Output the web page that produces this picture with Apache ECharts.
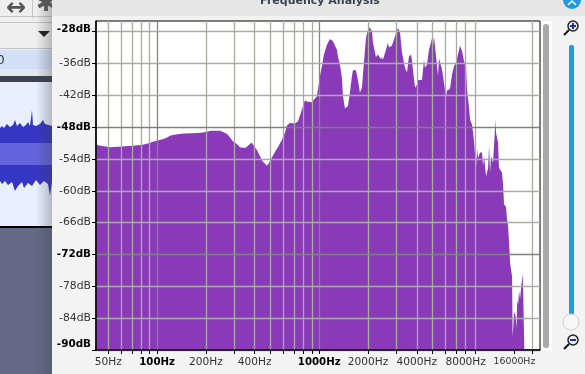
<!DOCTYPE html>
<html>
<head>
<meta charset="utf-8">
<title>Frequency Analysis</title>
<script src="https://cdn.jsdelivr.net/npm/echarts@6/dist/echarts.min.js"></script>
<style>
  html, body { margin: 0; padding: 0; background: #f2f2f2; }
  #chart { width: 585px; height: 374px; }
</style>
</head>
<body>
<div id="chart"></div>
<script>
// spectrum envelope
const freqHz = [
  42, 44.9, 51.8, 70.8, 81.6, 87.6, 95.4, 105, 113, 121, 130, 146, 181, 200, 215, 231,
  244, 255, 270, 281, 294, 311, 324, 338, 353, 363, 384, 395, 413, 431, 449, 476,
  490, 511, 533, 556, 589, 614, 632, 660, 708, 740, 771, 794, 816, 852, 902, 927,
  968, 982, 1010, 1039, 1069, 1115, 1164, 1215, 1286, 1304, 1342, 1381, 1401, 1441, 1503, 1546,
  1591, 1614, 1685, 1733, 1783, 1835, 1861, 1942, 2000, 2027, 2115, 2145, 2238, 2303, 2404, 2438,
  2472, 2580, 2654, 2692, 2810, 2932, 3060, 3148, 3240, 3380, 3478, 3578, 3682, 3736, 3898, 4009,
  4066, 4306, 4428, 4491, 4622, 4755, 4961, 5032, 5104, 5253, 5405, 5482, 5722, 5885, 6053, 6138,
  6403, 6592, 6785, 6982, 7082, 7389, 7602, 7822, 8046, 8160, 8394, 8516, 8758, 9017, 9274, 9405,
  9540, 9815, 10100, 10250, 10400, 10690, 11000, 11160, 11320, 11480, 11810, 11980, 12230, 12320, 12670, 12850,
  13420, 13610, 13810, 14200, 14410, 14620, 14830, 15040, 15470, 15590, 15700, 15900, 16300, 16530, 16600, 16840,
  17080, 17320, 17740, 17960, 18080, 18340, 18450
]
const levelDb = [
  -51.3, -51.5, -51.8, -51.5, -51.3, -51.1, -50.7, -50.4, -50.1, -49.6, -49.4, -49.2, -49.1, -48.9, -48.7, -48.7,
  -48.7, -48.9, -49.3, -49.9, -50.7, -51.2, -51.8, -51.9, -51.9, -51.5, -50.9, -51.5, -52.3, -53.5, -54.5, -55.3,
  -54.7, -53.7, -52.7, -51.8, -50.4, -49.1, -47.7, -47.2, -47.3, -46.9, -45.3, -44, -43, -43.2, -43.3, -42.8,
  -42.2, -40.9, -38.4, -36.5, -34.3, -32.5, -31.4, -31.8, -33.4, -34.7, -36.2, -38.7, -42.1, -44.5, -44, -41.5,
  -38.4, -37.3, -37.3, -39.1, -41.5, -40.6, -38.1, -31.2, -29.6, -29.1, -29.9, -32.1, -34.8, -34.3, -35.2, -34.8,
  -35.3, -33.4, -32.1, -33, -32.6, -30.9, -29.3, -30.1, -34, -36.8, -37.7, -34.7, -34.3, -35.6, -40.6, -40,
  -39.1, -39.1, -35.3, -36.8, -36.2, -33.4, -31.3, -32.5, -30.9, -34.7, -38.3, -35, -37.2, -39.7, -42.2, -41.1,
  -40.8, -38.1, -36.5, -35.9, -36.2, -32.6, -33.7, -35.6, -36.5, -40.9, -44.3, -46.6, -47.5, -50.7, -55.7, -52.1,
  -53.8, -52.8, -52.8, -55.3, -53.5, -57.3, -55.7, -51.5, -56.6, -53.5, -54.7, -51.3, -46.6, -49.1, -50.9, -55.7,
  -56.6, -58.9, -62.6, -63, -65.5, -66.7, -70, -73.6, -76.2, -87.4, -86.2, -82.8, -83.7, -86, -80.6, -81.5,
  -78.9, -80.4, -80.2, -75.7, -78, -78, -91
]

const yTickValues = [-90, -84, -78, -72, -66, -60, -54, -48, -42, -36, -30]
const yTickLabels = ['-90dB', '-84dB', '-78dB', '-72dB', '-66dB', '-60dB', '-54dB', '-48dB', '-42dB', '-36dB', '-28dB']
const yBoldLabels = ['-90dB', '-72dB', '-48dB', '-28dB']
const yDarkLines = [-72, -48]

const xTickValues = [
  50, 60, 70, 80, 90, 100, 200, 300, 400, 500, 600, 700, 800, 900, 1000,
  2000, 3000, 4000, 5000, 6000, 7000, 8000, 9150, 16000, 20500
]
const xGridValues = xTickValues.filter(v => v !== 16000)
const xDarkLines = [100, 1000]
const xLabelValues = [50, 100, 200, 400, 1000, 2000, 4000, 8000, 16000]
const xBoldLabels = [100, 1000]

const chart = echarts.init(document.getElementById('chart'))

const gridLines = [
  ...xGridValues.map(v => ({
    xAxis: v,
    lineStyle: { color: xDarkLines.includes(v) ? '#828580' : '#a8aaa4' }
  })),
  ...yTickValues.map(v => ({
    yAxis: v,
    lineStyle: { color: yDarkLines.includes(v) ? '#7f827c' : '#aaaca6' }
  }))
]

const font = 'DejaVu Sans'

// pieces of the Audacity window around the plot, not data
const shell = [
  // window behind the dialog
  { type: 'rect', shape: { x: 0, y: 0, width: 52, height: 374 }, style: { fill: '#626a85' } },
  { type: 'rect', shape: { x: 0, y: 0, width: 52, height: 50 }, style: { fill: '#efefef' } },
  { type: 'rect', shape: { x: 0, y: 16, width: 52, height: 1 }, style: { fill: '#c4c4c4' } },
  { type: 'rect', shape: { x: 0, y: 22, width: 52, height: 1 }, style: { fill: '#c4c4c4' } },
  { type: 'rect', shape: { x: 0, y: 48, width: 52, height: 1 }, style: { fill: '#c4c4c4' } },
  { type: 'rect', shape: { x: 32, y: 0, width: 1, height: 18 }, style: { fill: '#c4c4c4' } },
  { type: 'rect', shape: { x: 0, y: 50, width: 52, height: 19 }, style: { fill: '#d3e0f7' } },
  { type: 'rect', shape: { x: 0, y: 69, width: 52, height: 7 }, style: { fill: '#e4e8ef' } },
  { type: 'rect', shape: { x: 0, y: 76, width: 52, height: 6 }, style: { fill: '#3e4152' } },
  { type: 'rect', shape: { x: 0, y: 82, width: 52, height: 144 }, style: { fill: '#e8f0fe' } },
  {
    type: 'polygon',
    shape: { points: [
      [0, 128], [2, 126], [4, 128], [7, 124], [10, 127], [13, 125], [15, 120], [17, 126], [20, 123], [23, 127],
      [26, 125], [28, 122], [30, 126], [32, 110], [33, 125], [36, 126], [40, 124], [43, 120], [45, 124], [52, 126],
      [52, 182], [50, 196], [48, 184], [44, 181], [40, 185], [36, 180], [32, 186], [28, 183], [24, 188], [22, 182],
      [18, 186], [15, 191], [12, 182], [8, 185], [5, 181], [2, 184], [0, 181]
    ] },
    style: { fill: '#3636c4' }
  },
  { type: 'rect', shape: { x: 0, y: 143, width: 52, height: 22 }, style: { fill: '#6464dc' } },
  { type: 'rect', shape: { x: 0, y: 226, width: 52, height: 2 }, style: { fill: '#000' } },
  {
    type: 'rect',
    shape: { x: 36, y: 0, width: 16, height: 374 },
    style: { fill: new echarts.graphic.LinearGradient(0, 0, 1, 0, [
      { offset: 0, color: 'rgba(60,60,70,0)' },
      { offset: 1, color: 'rgba(60,60,70,0.3)' }
    ]) }
  },
  { type: 'text', style: { x: 6, y: -3, text: '↔', font: 'bold 24px ' + font, fill: '#555' } },
  { type: 'text', style: { x: 36, y: -7, text: '✱', font: 'bold 24px ' + font, fill: '#555' } },
  { type: 'polygon', shape: { points: [[38, 31], [50, 31], [44, 37]] }, style: { fill: '#222' } },
  { type: 'text', style: { x: -3, y: 55, text: '0', font: '12px ' + font, fill: '#333' } },

  // dialog
  { type: 'rect', shape: { x: 52, y: 0, width: 533, height: 374 }, style: { fill: '#f3f3f3' } },
  { type: 'rect', shape: { x: 52, y: 0, width: 533, height: 16 }, style: { fill: '#e6e6e6' } },
  { type: 'text', style: { x: 320, y: 1, text: 'Frequency Analysis', align: 'center', verticalAlign: 'middle', font: 'bold 11px ' + font, fill: '#3c4250' } },
  { type: 'circle', shape: { cx: 572, cy: 0, r: 9 }, style: { fill: '#1d9bdc' } },
  { type: 'polyline', shape: { points: [[568, 5], [572, 1], [576, 5]] }, style: { stroke: '#fff', lineWidth: 1.5, fill: null } },

  // plot scrollbar
  { type: 'rect', shape: { x: 540, y: 21, width: 12, height: 330 }, style: { fill: '#fbfbfb' } },
  { type: 'rect', shape: { x: 543, y: 24, width: 6, height: 324, r: 3 }, style: { fill: '#a9a9a9' } },

  // zoom slider
  { type: 'rect', shape: { x: 569, y: 45, width: 5, height: 270, r: 2 }, style: { fill: '#1d9fdf' } },
  { type: 'circle', shape: { cx: 571, cy: 322, r: 8 }, style: { fill: '#f8f8f8', stroke: '#cfcfcf', lineWidth: 1 } },
  { type: 'circle', shape: { cx: 573, cy: 26, r: 5 }, style: { fill: '#eee', stroke: '#222', lineWidth: 1.5 } },
  { type: 'line', shape: { x1: 569, y1: 30, x2: 564, y2: 35 }, style: { stroke: '#111', lineWidth: 2 } },
  { type: 'rect', shape: { x: 570, y: 25, width: 6, height: 2 }, style: { fill: '#2030b0' } },
  { type: 'rect', shape: { x: 572, y: 23, width: 2, height: 6 }, style: { fill: '#2030b0' } },
  { type: 'circle', shape: { cx: 573, cy: 340, r: 5 }, style: { fill: '#eee', stroke: '#222', lineWidth: 1.5 } },
  { type: 'line', shape: { x1: 569, y1: 344, x2: 564, y2: 349 }, style: { stroke: '#111', lineWidth: 2 } },
  { type: 'rect', shape: { x: 570, y: 339, width: 6, height: 2 }, style: { fill: '#2030b0' } }
]

const option = {
  animation: false,
  backgroundColor: '#f3f3f3',
  // keep the window pieces under the grid background
  graphic: { elements: shell.map(el => ({ ...el, z: -10 })) },
  grid: {
    left: 96,
    right: 45,
    top: 21,
    bottom: 24,
    show: true,
    backgroundColor: '#fff',
    borderColor: '#000',
    borderWidth: 1
  },
  xAxis: {
    type: 'log',
    min: 42,
    max: 23000,
    z: 5,
    splitLine: { show: false },
    minorTick: { show: false },
    axisLine: { lineStyle: { color: '#000', width: 1.5 } },
    axisTick: { length: 4, customValues: xTickValues, lineStyle: { color: '#000' } },
    axisLabel: {
      customValues: xLabelValues,
      margin: 7,
      hideOverlap: false,
      fontFamily: font,
      fontSize: 10.6,
      color: '#333',
      formatter: value => {
        const hz = Math.round(value)
        if (hz === 16000) return '{small|' + hz + 'Hz}'
        return xBoldLabels.includes(hz) ? '{bold|' + hz + 'Hz}' : hz + 'Hz'
      },
      rich: {
        bold: { fontFamily: font, fontWeight: 'bold', fontSize: 10.2, color: '#000' },
        small: { fontFamily: font, fontSize: 9.4, color: '#333' }
      }
    }
  },
  yAxis: {
    type: 'value',
    min: -90,
    max: -28,
    z: 5,
    splitLine: { show: false },
    axisLine: { show: true, lineStyle: { color: '#000', width: 1.5 } },
    axisTick: { show: true, length: 4, customValues: yTickValues, lineStyle: { color: '#000' } },
    axisLabel: {
      customValues: yTickValues,
      margin: 5,
      fontFamily: font,
      fontSize: 10.8,
      color: '#333',
      formatter: value => {
        const text = yTickLabels[yTickValues.indexOf(Math.round(value))]
        if (text === '-90dB') return '{boldUp|' + text + '}'
        if (text === '-28dB') return '{boldTop|' + text + '}'
        return yBoldLabels.includes(text) ? '{bold|' + text + '}' : text
      },
      rich: {
        bold: { fontFamily: font, fontWeight: 'bold', fontSize: 10.4, color: '#000' },
        boldUp: { fontFamily: font, fontWeight: 'bold', fontSize: 10.4, color: '#000', padding: [0, 0, 12, 0] },
        boldTop: { fontFamily: font, fontWeight: 'bold', fontSize: 10.4, color: '#000', padding: [0, 0, 5, 0] }
      }
    }
  },
  series: [
    {
      type: 'line',
      z: 1,
      data: freqHz.map((hz, i) => [hz, levelDb[i]]),
      symbol: 'none',
      lineStyle: { width: 0 },
      areaStyle: { color: '#8a3ab9', opacity: 1, origin: 'start' },
      markLine: {
        silent: true,
        symbol: 'none',
        label: { show: false },
        lineStyle: { width: 1.3, type: 'solid' },
        data: gridLines
      }
    }
  ]
}

chart.setOption(option)
</script>
</body>
</html>
